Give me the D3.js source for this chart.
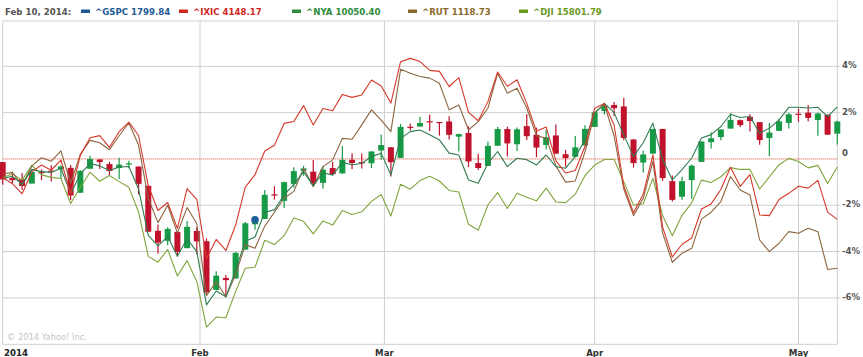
<!DOCTYPE html>
<html>
<head>
<meta charset="utf-8">
<script src="https://cdn.jsdelivr.net/npm/d3@7"></script>
<style>
  html, body { margin: 0; padding: 0; background: #ffffff; }
  svg { display: block; }
</style>
</head>
<body>
<svg id="chart" width="863" height="357"></svg>
<script>
// ---------------- DATA ----------------
const dates = [
  "2014-01-02","2014-01-03","2014-01-06","2014-01-07","2014-01-08","2014-01-09","2014-01-10",
  "2014-01-13","2014-01-14","2014-01-15","2014-01-16","2014-01-17","2014-01-21","2014-01-22",
  "2014-01-23","2014-01-24","2014-01-27","2014-01-28","2014-01-29","2014-01-30","2014-01-31",
  "2014-02-03","2014-02-04","2014-02-05","2014-02-06","2014-02-07","2014-02-10","2014-02-11",
  "2014-02-12","2014-02-13","2014-02-14","2014-02-18","2014-02-19","2014-02-20","2014-02-21",
  "2014-02-24","2014-02-25","2014-02-26","2014-02-27","2014-02-28",
  "2014-03-03","2014-03-04","2014-03-05","2014-03-06","2014-03-07","2014-03-10","2014-03-11",
  "2014-03-12","2014-03-13","2014-03-14","2014-03-17","2014-03-18","2014-03-19","2014-03-20",
  "2014-03-21","2014-03-24","2014-03-25","2014-03-26","2014-03-27","2014-03-28","2014-03-31",
  "2014-04-01","2014-04-02","2014-04-03","2014-04-04","2014-04-07","2014-04-08","2014-04-09",
  "2014-04-10","2014-04-11","2014-04-14","2014-04-15","2014-04-16","2014-04-17","2014-04-21",
  "2014-04-22","2014-04-23","2014-04-24","2014-04-25","2014-04-28","2014-04-29","2014-04-30",
  "2014-05-01","2014-05-02","2014-05-05","2014-05-06","2014-05-07"
];

// base values (close of 2013-12-31) used for % change
const baseGSPC = 1848.36, baseIXIC = 4176.59, baseNYA = 10400.67, baseRUT = 1163.64, baseDJI = 16576.66;

const gspcOpen = [1845.86,1833.21,1832.31,1828.71,1837.90,1839.00,1840.06,1841.26,1821.36,1840.52,1847.99,1844.23,1841.05,1844.71,1842.29,1826.96,1791.03,1783.00,1790.15,1777.17,1790.88,
  1782.68,1743.82,1753.38,1752.99,1776.01,1796.20,1800.45,1820.12,1814.88,1828.46,1839.03,1838.22,1829.24,1841.07,1836.78,1847.66,1845.79,1844.90,1855.12,
  1857.68,1849.23,1874.05,1874.18,1878.52,1877.86,1878.26,1866.15,1869.06,1845.07,1842.81,1858.92,1872.25,1860.09,1874.53,1867.67,1859.48,1867.09,1852.11,1850.07,1859.16,
  1873.96,1886.61,1891.43,1890.25,1863.92,1845.48,1852.64,1872.28,1830.65,1818.18,1831.45,1846.01,1861.73,1865.79,1872.57,1879.32,1881.97,1877.72,1865.00,1870.78,1877.10,
  1884.39,1885.30,1879.45,1883.69,1868.53];
const gspcHigh = [1845.86,1838.24,1837.16,1840.10,1840.02,1843.23,1843.15,1843.45,1839.26,1850.84,1847.99,1846.04,1849.31,1846.87,1842.29,1826.96,1795.98,1793.87,1790.15,1798.77,1793.88,
  1784.83,1758.73,1755.79,1774.06,1798.03,1799.94,1823.54,1826.55,1830.25,1841.65,1842.87,1847.50,1842.79,1846.13,1858.71,1852.91,1852.65,1854.53,1867.92,
  1857.68,1876.23,1876.53,1881.94,1883.57,1877.87,1882.35,1868.38,1874.40,1852.44,1862.30,1873.76,1874.14,1873.49,1883.97,1873.34,1871.87,1875.92,1855.55,1866.63,1875.18,
  1885.84,1893.17,1893.80,1897.28,1864.04,1854.95,1872.43,1872.53,1835.07,1834.19,1844.02,1862.31,1869.63,1871.89,1884.89,1879.75,1884.06,1877.72,1877.01,1880.60,1885.20,
  1888.59,1891.33,1885.51,1883.69,1878.83];
const gspcLow = [1827.74,1829.13,1823.73,1828.71,1831.40,1830.38,1832.43,1815.52,1821.36,1840.52,1840.30,1835.23,1832.38,1840.88,1820.06,1790.29,1772.88,1779.49,1770.45,1777.17,1772.26,
  1739.66,1743.82,1737.92,1752.99,1776.01,1791.83,1800.41,1815.97,1809.22,1825.59,1835.01,1826.99,1824.58,1835.60,1836.78,1840.19,1840.66,1841.13,1847.67,
  1834.44,1849.23,1871.11,1874.18,1870.56,1867.04,1863.88,1854.38,1841.86,1839.57,1842.81,1858.92,1850.35,1854.63,1863.46,1849.69,1855.96,1852.56,1842.11,1850.07,1859.16,
  1873.96,1883.79,1882.65,1863.26,1841.48,1837.49,1852.38,1830.87,1814.36,1815.80,1816.29,1846.01,1856.72,1863.18,1872.57,1873.91,1870.24,1859.70,1850.61,1870.78,1872.69,
  1878.04,1878.50,1866.77,1867.72,1859.79];
const gspcClose = [1831.98,1831.37,1826.77,1837.88,1837.49,1838.13,1842.37,1819.20,1838.88,1848.38,1845.89,1838.70,1843.80,1844.86,1828.46,1790.29,1781.56,1792.50,1774.20,1794.19,1782.59,
  1741.89,1755.20,1751.64,1773.43,1797.02,1799.84,1819.75,1819.26,1829.83,1838.63,1840.76,1828.75,1839.78,1836.25,1847.61,1845.12,1845.16,1854.29,1859.45,
  1845.73,1873.91,1873.81,1877.03,1878.04,1877.17,1867.63,1868.20,1846.34,1841.13,1858.83,1872.25,1860.77,1872.01,1866.52,1857.44,1865.62,1852.56,1849.04,1857.62,1872.34,
  1885.52,1890.90,1888.77,1865.09,1845.04,1851.96,1872.18,1833.08,1815.69,1830.61,1842.98,1862.31,1864.85,1871.89,1879.55,1875.39,1878.61,1863.40,1869.43,1878.33,1883.95,
  1883.68,1881.14,1884.66,1867.72,1878.21];

const ixicClose = [4143.07,4131.91,4113.68,4153.18,4165.61,4156.19,4174.67,4113.30,4183.02,4214.88,4218.69,4197.58,4225.76,4243.00,4218.88,4128.17,4083.61,4097.96,4051.43,4123.13,4103.88,
  3996.96,4031.52,4011.55,4057.12,4125.86,4148.17,4191.05,4201.29,4240.67,4244.03,4272.78,4237.95,4267.55,4263.41,4292.97,4287.59,4292.06,4318.93,4308.12,
  4277.30,4351.97,4357.97,4352.13,4336.22,4334.45,4307.19,4323.33,4260.42,4245.40,4279.95,4333.31,4307.60,4319.29,4276.79,4226.39,4234.27,4173.58,4151.23,4155.76,4198.99,
  4268.04,4276.46,4237.74,4127.73,4079.75,4112.99,4183.90,4054.11,3999.73,4022.69,4034.16,4086.23,4095.52,4121.55,4161.46,4126.97,4148.34,4075.56,4074.40,4103.54,4114.56,
  4127.45,4123.90,4138.06,4080.76,4067.67];

const nyaClose = [10312.3,10322.7,10286.3,10353.9,10343.5,10340.3,10359.1,10244.7,10333.1,10379.9,10369.5,10348.7,10364.3,10366.4,10265.5,10057.4,10010.6,10052.2,9963.8,10041.8,9984.6,
  9745.4,9807.8,9781.8,9901.4,10031.4,10050.40,10161.5,10171.9,10239.5,10286.3,10343.5,10281.1,10338.3,10327.9,10385.1,10374.7,10379.9,10411.1,10426.7,
  10328.9,10493.2,10523.4,10530.7,10508.8,10486.0,10426.7,10418.4,10306.0,10291.5,10380.9,10434.0,10366.3,10403.8,10397.5,10373.6,10418.4,10366.3,10359.1,10411.1,10486.0,
  10605.6,10650.3,10608.7,10508.8,10411.1,10473.5,10561.9,10397.5,10307.1,10352.8,10404.8,10494.3,10509.9,10546.3,10601.4,10586.8,10591.0,10516.1,10539.0,10575.4,10632.6,
  10632.6,10629.5,10632.6,10591.0,10634.7];

const rutClose = [1156.08,1156.89,1150.26,1160.15,1164.22,1162.48,1167.71,1151.42,1165.97,1172.95,1171.79,1168.29,1175.28,1181.68,1170.62,1143.86,1131.64,1140.37,1126.40,1139.20,1131.06,
  1094.98,1101.97,1094.40,1105.46,1120.59,1118.73,1129.89,1136.88,1143.86,1147.35,1158.99,1149.68,1159.80,1163.17,1173.99,1173.53,1180.75,1188.31,1183.19,
  1177.37,1208.67,1206.69,1205.07,1204.25,1201.69,1188.31,1190.75,1178.19,1182.37,1189.12,1206.69,1196.69,1199.13,1189.24,1175.28,1174.11,1160.15,1152.00,1152.59,1167.13,
  1186.91,1190.99,1175.28,1148.51,1135.13,1143.86,1162.48,1126.40,1111.74,1116.28,1118.72,1133.39,1136.88,1142.23,1154.80,1148.05,1145.49,1122.91,1117.09,1121.28,1127.10,
  1126.29,1128.85,1127.10,1108.13,1108.72];

const djiClose = [16441.35,16469.99,16425.10,16530.94,16462.74,16444.76,16437.05,16257.94,16373.86,16481.94,16417.01,16458.56,16414.44,16373.34,16197.35,15879.11,15837.88,15928.56,15738.79,15848.61,15698.85,
  15372.80,15445.24,15440.23,15628.53,15794.08,15801.79,15994.77,15963.94,16027.59,16154.39,16130.40,16040.56,16133.23,16103.30,16207.14,16179.66,16198.41,16272.65,16321.71,
  16168.03,16395.88,16360.18,16421.89,16452.72,16418.68,16351.25,16340.08,16108.89,16065.67,16247.22,16336.19,16222.17,16331.05,16302.77,16276.69,16367.88,16268.99,16264.23,16323.06,16457.66,
  16532.61,16573.00,16572.55,16412.71,16245.87,16256.14,16437.24,16170.22,16026.75,16173.24,16262.56,16424.85,16408.54,16449.25,16514.37,16501.65,16501.65,16361.46,16448.74,16535.37,16580.84,
  16558.87,16512.89,16530.55,16401.02,16518.54];

const yTicks = [-6, -4, -2, 0, 2, 4];
const monthStarts = ["2014-02-01", "2014-03-01", "2014-04-01", "2014-05-01"];
const monthLabels = ["Feb", "Mar", "Apr", "May"];
const yearLabel = "2014";
const hoverDate = "2014-02-10";
const legendDate = "Feb 10, 2014:";
const legendNames = ["^GSPC", "^IXIC", "^NYA", "^RUT", "^DJI"];
const copyright = "\u00A9 2014 Yahoo! Inc.";

// ---------------- CHART ----------------
const svg = d3.select("#chart");
const L = 2.7, R = 837.3, T = 21, B = 344.3;
const n = dates.length;
const x = d3.scaleLinear().domain([0, n - 1]).range([L, R]);
const y = d3.scaleLinear().domain([-6, 4]).range([297.9, 66.3]);
const pct = (v, base) => (v / base - 1) * 100;
const parse = d3.timeParse("%Y-%m-%d");
const dts = dates.map(parse);

const fontFam = "'DejaVu Sans', Verdana, sans-serif";

// month position: calendar interpolation between trading days
function monthPos(ds) {
  const m = parse(ds);
  let j = dts.findIndex(d => d >= m);
  if (+dts[j] === +m) return j;
  const prev = dts[j - 1], next = dts[j];
  return (j - 1) + (m - prev) / (next - prev);
}

// plot frame
svg.append("rect").attr("x", L).attr("y", T).attr("width", R - L).attr("height", B - T)
  .attr("fill", "none").attr("stroke", "#cfcfcf").attr("stroke-width", 1);
svg.append("line").attr("x1", R).attr("x2", R).attr("y1", 0).attr("y2", T)
  .attr("stroke", "#dcdcdc");

// horizontal grid + labels
yTicks.forEach(t => {
  if (t !== 0) {
    svg.append("line").attr("x1", L).attr("x2", R + 3).attr("y1", y(t)).attr("y2", y(t))
      .attr("stroke", "#cfcfcf").attr("stroke-width", 1);
  }
  svg.append("text").attr("x", 842).attr("y", t === 0 ? y(t) - 3 : y(t) + 2)
    .attr("font-family", fontFam).attr("font-size", 8.6).attr("font-weight", "bold")
    .attr("fill", "#555").text(t === 0 ? "0" : t + "%");
});

// vertical month grid + labels
monthStarts.forEach((ms, k) => {
  const px = x(monthPos(ms));
  svg.append("line").attr("x1", px).attr("x2", px).attr("y1", T).attr("y2", B)
    .attr("stroke", "#cfcfcf").attr("stroke-width", 1);
  svg.append("text").attr("x", px).attr("y", 356).attr("text-anchor", "middle")
    .attr("font-family", fontFam).attr("font-size", 8.6).attr("font-weight", "bold")
    .attr("fill", "#333").text(monthLabels[k]);
});
svg.append("text").attr("x", 4).attr("y", 356)
  .attr("font-family", fontFam).attr("font-size", 8.6).attr("font-weight", "bold")
  .attr("fill", "#222").text(yearLabel);

// zero line (dotted red)
svg.append("line").attr("x1", L).attr("x2", R).attr("y1", y(0)).attr("y2", y(0))
  .attr("stroke", "#e0452f").attr("stroke-width", 1).attr("stroke-dasharray", "1,1");

// copyright
svg.append("text").attr("x", 7).attr("y", 340)
  .attr("font-family", fontFam).attr("font-size", 8.3)
  .attr("fill", "#c4c4c4").text(copyright);

// candlesticks for GSPC
const up = "#169a45", down = "#c0122c";
const cg = svg.append("g");
d3.range(n).forEach(i => {
  const o = pct(gspcOpen[i], baseGSPC), c = pct(gspcClose[i], baseGSPC);
  const h = pct(gspcHigh[i], baseGSPC), l = pct(gspcLow[i], baseGSPC);
  const col = c >= o ? up : down;
  const cx = x(i);
  cg.append("line").attr("x1", cx).attr("x2", cx).attr("y1", y(h)).attr("y2", y(l))
    .attr("stroke", col).attr("stroke-width", 1.2);
  const top = y(Math.max(o, c)), bot = y(Math.min(o, c));
  cg.append("rect").attr("x", cx - 3).attr("width", 6)
    .attr("y", top).attr("height", Math.max(1.2, bot - top)).attr("fill", col);
});

// comparison lines
const series = [
  { vals: djiClose, base: baseDJI, color: "#80a53c" },
  { vals: rutClose, base: baseRUT, color: "#8c6540" },
  { vals: nyaClose, base: baseNYA, color: "#2f7d50" },
  { vals: ixicClose, base: baseIXIC, color: "#d6392a" }
];
const lineGen = d3.line().x((d, i) => x(i)).y(d => y(d));
series.forEach(s => {
  svg.append("path").datum(s.vals.map(v => pct(v, s.base)))
    .attr("d", lineGen).attr("fill", "none")
    .attr("stroke", s.color).attr("stroke-width", 1.1).attr("stroke-linejoin", "round");
});

// hover marker
const hi = dates.indexOf(hoverDate);
svg.append("circle").attr("cx", x(hi)).attr("cy", y(pct(gspcClose[hi], baseGSPC)))
  .attr("r", 3.8).attr("fill", "#1d5f96");

// legend
const legendVals = [gspcClose[hi], ixicClose[hi], nyaClose[hi], rutClose[hi], djiClose[hi]];
const legendColors = ["#1f5a96", "#d0281e", "#2e8b3e", "#8a6a2c", "#6a9a1e"];
const legendX = [81, 179, 292, 408, 519];
svg.append("text").attr("x", 5).attr("y", 15)
  .attr("font-family", fontFam).attr("font-size", 8.6).attr("font-weight", "bold")
  .attr("fill", "#555").text(legendDate);
legendNames.forEach((nm, k) => {
  svg.append("rect").attr("x", legendX[k]).attr("y", 9.5).attr("width", 9).attr("height", 3.5)
    .attr("fill", legendColors[k]);
  svg.append("text").attr("x", legendX[k] + 14).attr("y", 15)
    .attr("font-family", fontFam).attr("font-size", 8.6).attr("font-weight", "bold")
    .attr("fill", legendColors[k]).text(nm + " " + d3.format(".2f")(legendVals[k]));
});
</script>
</body>
</html>
